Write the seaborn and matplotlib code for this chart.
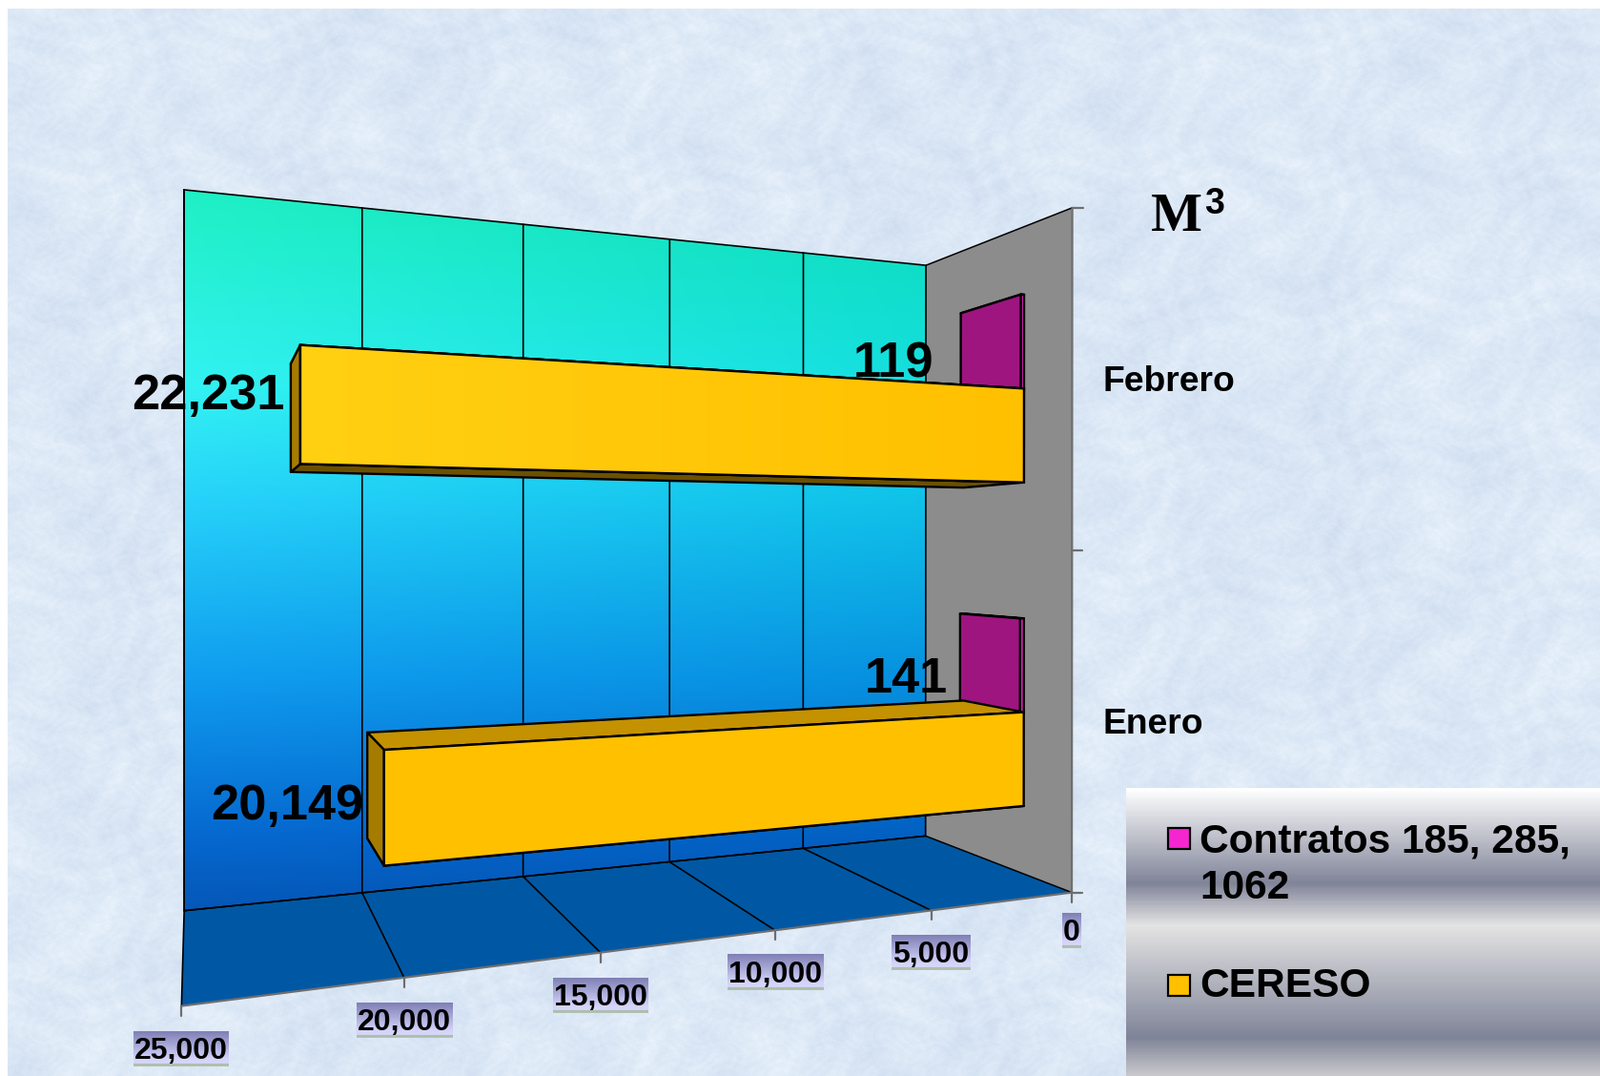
# Grafico de barras 3D: volumen por mes (M3)
import numpy as np
import pandas as pd
import seaborn as sns
import matplotlib.pyplot as plt
from matplotlib.colors import LinearSegmentedColormap
from matplotlib.patches import Polygon, Rectangle
from matplotlib.transforms import Transform

# Datos
meses = ["Enero", "Febrero"]
series = ["CERESO", "Contratos 185, 285,\n1062"]
cereso = [20149, 22231]
contratos = [141, 119]
ticks = [0, 5000, 10000, 15000, 20000, 25000]
ancho, alto = 1678, 1128
vmax = 25000

# Colores
amarillo = "#ffc000"
magenta = "#f526d0"
gris_pared = "#8c8c8c"
azul_piso = "#0058a4"

# Camara: puntos (valor, categoria, fondo) -> pixel, para ajustar la perspectiva
cam_3d = [(0, 1.5, 0), (0, -0.5, 0), (0, 1.5, 1), (0, -0.5, 1),
          (25000, 1.5, 1), (25000, -0.5, 1), (25000, -0.5, 0),
          (5000, -0.5, 0), (15000, -0.5, 0), (20000, -0.5, 0),
          (20000, -0.5, 1), (20000, 1.5, 1), (5000, 1.5, 1)]
cam_px = [(1125, 218), (1124, 935), (971, 278), (971, 877),
          (193, 199), (193, 954), (190, 1055),
          (976, 954), (630, 999), (424, 1025),
          (380, 936), (380, 218), (842, 265)]

A, b = [], []
for (v, c, d), (px, py) in zip(cam_3d, cam_px):
    u, t = v / vmax, (c + 0.5) / 2
    A.append([u, t, d, 1, 0, 0, 0, 0, -px * u, -px * t, -px * d])
    A.append([0, 0, 0, 0, u, t, d, 1, -py * u, -py * t, -py * d])
    b += [px, py]
P = np.append(np.linalg.lstsq(np.array(A, float), np.array(b, float), rcond=None)[0], 1).reshape(3, 4)


def proyectar(v, c, d):
    u, t = np.asarray(v) / vmax, (np.asarray(c) + 0.5) / 2
    w = P[2, 0] * u + P[2, 1] * t + P[2, 2] * d + P[2, 3]
    return ((P[0, 0] * u + P[0, 1] * t + P[0, 2] * d + P[0, 3]) / w,
            (P[1, 0] * u + P[1, 1] * t + P[1, 2] * d + P[1, 3]) / w)


class Proyeccion(Transform):
    input_dims = 2
    output_dims = 2

    def __init__(self, d):
        super().__init__()
        self.d = d

    def transform_non_affine(self, values):
        values = np.asarray(values)
        return np.column_stack(proyectar(values[:, 0], values[:, 1], self.d))


def gradiente(stops):
    return LinearSegmentedColormap.from_list("g", stops)


def cara(puntos, color, z, lw=1.7):
    xy = [proyectar(*p) for p in puntos]
    ax.add_patch(Polygon(xy, closed=True, facecolor=color, edgecolor="black",
                         linewidth=lw, zorder=z, joinstyle="round"))


def prisma(v, c0, c1, d0, d1, z, lateral, arriba, abajo):
    cara([(0, c0, d0), (v, c0, d0), (v, c0, d1), (0, c0, d1)], abajo, z)
    cara([(0, c1, d0), (v, c1, d0), (v, c1, d1), (0, c1, d1)], arriba, z)
    cara([(v, c0, d0), (v, c1, d0), (v, c1, d1), (v, c0, d1)], lateral, z)


sns.set_theme(style="white")
plt.rcParams["font.family"] = ["Liberation Sans", "DejaVu Sans"]
plt.rcParams["font.weight"] = "bold"

fig = plt.figure(figsize=(ancho / 100, alto / 100), dpi=100, facecolor="white")
ax = fig.add_axes([0, 0, 1, 1])

# Las barras las calcula seaborn; la proyeccion las coloca en perspectiva
df = pd.DataFrame({
    "mes": meses * 2,
    "serie": [series[0]] * 2 + [series[1]] * 2,
    "m3": cereso + contratos,
})
sns.barplot(data=df, x="m3", y="mes", hue="serie", order=meses, hue_order=series,
            palette=[amarillo, magenta], width=0.58, gap=0, saturation=1,
            edgecolor="black", linewidth=1.7, errorbar=None, legend=False,
            orient="h", ax=ax)
ax.set_axis_off()

# Fondo con textura suave
yy, xx = np.mgrid[9:alto, 8:ancho]
ruido = (0.8 * np.sin(xx / 37.0 + np.sin(yy / 53.0) * 2.1) * np.cos(yy / 41.0 + np.sin(xx / 61.0) * 1.7)
         + 0.7 * np.sin((xx + yy) / 13.0 + np.cos(xx / 29.0) * 3) * np.sin((xx - yy) / 17.0 + np.cos(yy / 23.0) * 3)
         + 0.5 * np.sin(xx / 5.3 + np.sin(yy / 7.1) * 4) * np.sin(yy / 4.7 + np.sin(xx / 9.1) * 4)
         + 0.35 * np.sin(xx / 2.3 + np.sin(yy / 3.7) * 5) * np.sin(yy / 2.9 + np.sin(xx / 4.3) * 5))
ruido = ruido / 2.0
fondo = np.clip(np.dstack([220 + 13 * ruido, 232 + 10 * ruido, 246 + 6 * ruido]) / 255, 0, 1)
ax.imshow(fondo, extent=(8, ancho, alto, 9), aspect="auto", zorder=0)

# Pared del fondo con degradado
esq = [proyectar(25000, 1.5, 1), proyectar(0, 1.5, 1), proyectar(0, -0.5, 1), proyectar(25000, -0.5, 1)]
x0, x1 = min(p[0] for p in esq), max(p[0] for p in esq)
y0, y1 = min(p[1] for p in esq), max(p[1] for p in esq)
cmap_pared = gradiente([(0, "#1ff0c4"), (0.27, "#33f2f2"), (0.42, "#28d4fa"),
                        (0.68, "#109cf0"), (0.9, "#0668d0"), (1, "#0558b8")])
gy = cmap_pared(np.linspace(0, 1, 400))[:, :3]
s = np.linspace(0, 1, 400)
fx = np.column_stack([1 - 0.6 * s, 1 - 0.08 * s, 1 - 0.07 * s])
pared = gy[:, None, :] * fx[None, :, :]
im = ax.imshow(pared, extent=(x0, x1, y1, y0), aspect="auto", zorder=1)
im.set_clip_path(Polygon(esq, closed=True, transform=ax.transData))
ax.add_patch(Polygon(esq, closed=True, fill=False, edgecolor="black", linewidth=1.2, zorder=2))

# Piso y pared lateral
cara([(0, -0.5, 0), (25000, -0.5, 0), (25000, -0.5, 1), (0, -0.5, 1)], azul_piso, 1.5, 0)
cara([(0, -0.5, 0), (0, 1.5, 0), (0, 1.5, 1), (0, -0.5, 1)], gris_pared, 1.5, 0)

# Lineas de division
for v in ticks[1:]:
    xs, ys = zip(*[proyectar(v, 1.5, 1), proyectar(v, -0.5, 1), proyectar(v, -0.5, 0)])
    ax.plot(xs, ys, color="black", linewidth=1.2, zorder=2)
for p, q in [((0, -0.5, 1), (0, -0.5, 0)), ((0, 1.5, 1), (0, 1.5, 0)), ((25000, -0.5, 1), (0, -0.5, 1))]:
    xs, ys = zip(proyectar(*p), proyectar(*q))
    ax.plot(xs, ys, color="black", linewidth=1.1, zorder=2)

# Ejes frontales
color_eje = "#6e6e6e"
xs, ys = zip(proyectar(0, -0.5, 0), proyectar(25000, -0.5, 0))
ax.plot(xs, ys, color=color_eje, linewidth=1.6, zorder=3)
xs, ys = zip(proyectar(0, -0.5, 0), proyectar(0, 1.5, 0))
ax.plot(xs, ys, color=color_eje, linewidth=1.6, zorder=3)
for c in [-0.5, 0.5, 1.5]:
    px, py = proyectar(0, c, 0)
    ax.plot([px, px + 11], [py, py], color=color_eje, linewidth=1.6, zorder=3)

# Etiquetas del eje de valores con caja degradada
cmap_caja = gradiente([(0, "#7f7fb5"), (0.78, "#d2d2fa"), (0.92, "#d8d8f8"), (0.93, "#a8b8a8"), (1, "#b4c4b4")])
caja = cmap_caja(np.linspace(0, 1, 64))[:, None, :3]
fig.canvas.draw()
render = fig.canvas.get_renderer()
for v in ticks:
    px, py = proyectar(v, -0.5, 0)
    ax.plot([px, px], [py, py + 10], color=color_eje, linewidth=1.6, zorder=3)
    cy = py + (40 if v == 0 else 44.5)
    t = ax.text(px, cy + 2.5, f"{v:,}", fontsize=23, ha="center", va="center", color="black", zorder=5)
    ex = t.get_window_extent(render)
    ax.imshow(caja, extent=(px - ex.width / 2 - 1, px + ex.width / 2 + 1, cy + 18.5, cy - 18.5),
              aspect="auto", zorder=4)

# Caras de las barras
d_ini, d_fin = 0.29, 0.705
amar, mag = ax.containers[0], ax.containers[1]
for barra in mag:
    y, h = barra.get_y(), barra.get_height()
    prisma(barra.get_width(), y, y + h, d_ini, d_fin, 5, "#9e1580", "#9e1580", "#9e1580")
    barra.set_transform(Proyeccion(d_ini) + ax.transData)
    barra.set_zorder(6)
    barra.set_clip_on(False)
for barra in amar:
    y, h = barra.get_y(), barra.get_height()
    prisma(barra.get_width(), y, y + h, d_ini, d_fin, 7, "#a67c00", "#c49200", "#6b5000")
    barra.set_transform(Proyeccion(d_ini) + ax.transData)
    barra.set_zorder(8)
    barra.set_clip_on(False)

# La barra de febrero pasa de un amarillo claro a la izquierda al amarillo base
barra = amar[1]
y, h, v = barra.get_y(), barra.get_height(), barra.get_width()
front = [proyectar(v, y + h, d_ini), proyectar(0, y + h, d_ini), proyectar(0, y, d_ini), proyectar(v, y, d_ini)]
bx0, bx1 = min(p[0] for p in front), max(p[0] for p in front)
by0, by1 = min(p[1] for p in front), max(p[1] for p in front)
tono = gradiente(["#ffd012", "#ffc000"])(np.linspace(0, 1, 200))[None, :, :3]
im2 = ax.imshow(tono, extent=(bx0, bx1, by1, by0), aspect="auto", zorder=8.2)
im2.set_clip_path(Polygon(front, closed=True, transform=ax.transData))
ax.add_patch(Polygon(front, closed=True, fill=False, edgecolor="black", linewidth=1.7, zorder=8.4))

# Valores sobre las barras (desplazamiento en pixeles desde el extremo)
despl = {0: [(-4, 22), (-6, -23), ], 1: [(-13, 23), (-28, 8)]}
for k, cont in enumerate([amar, mag]):
    for i, barra in enumerate(cont):
        y, h = barra.get_y(), barra.get_height()
        px, py = proyectar(barra.get_width(), y + h / 2, d_fin)
        ax.text(px + despl[k][i][0], py + despl[k][i][1], f"{int(barra.get_width()):,}", fontsize=37.7,
                ha="right", va="center", color="black", zorder=10)

# Categorias
for i, mes in enumerate(meses):
    px, py = proyectar(0, i, 0)
    ax.text(px + 32, py + 3, mes, fontsize=26.8, ha="left", va="center", color="black", zorder=10)

# Titulo M3
ax.text(1207, 242, "M", fontsize=41, family="Liberation Serif", weight="bold",
        ha="left", va="baseline", color="black", zorder=10)
ax.text(1263, 224, "3", fontsize=27, ha="left", va="baseline", color="black", zorder=10)

# Leyenda con fondo metalico
cmap_ley = gradiente([(0, "#ffffff"), (0.33, "#808498"), (0.476, "#e4e4e4"), (0.87, "#808498"), (1, "#c8c8cc")])
ax.imshow(cmap_ley(np.linspace(0, 1, 302))[:, None, :3], extent=(1181, ancho, alto, 826), aspect="auto", zorder=4)
for color, nombre, y_cuadro, y_base in [(magenta, series[1], 868, 942), (amarillo, series[0], 1022, 1045)]:
    ax.add_patch(Rectangle((1225, y_cuadro), 23, 22, facecolor=color, edgecolor="black", linewidth=1.6, zorder=10))
    ax.text(1258, y_base, nombre, fontsize=30.6, ha="left", va="baseline", linespacing=1.26, color="black", zorder=10)

ax.set_xlim(0, ancho)
ax.set_ylim(alto, 0)
fig.savefig("out.png", dpi=100)
